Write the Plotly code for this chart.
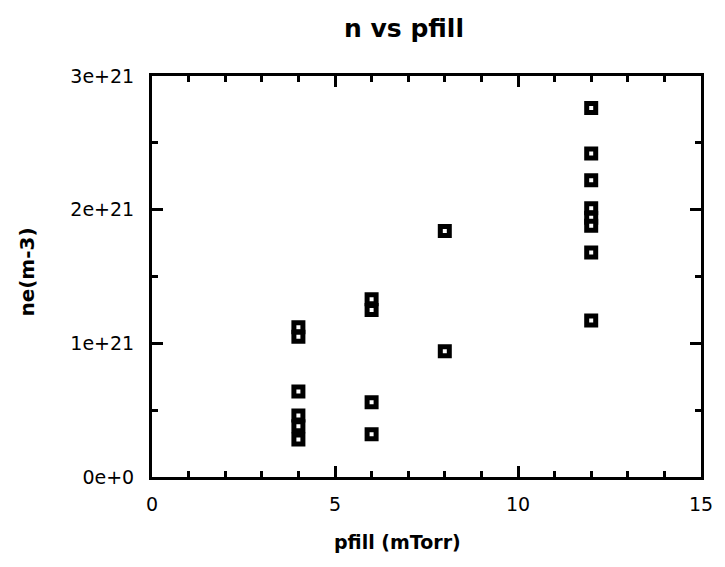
import plotly.graph_objects as go

# Data
pfill = [4, 4, 4, 4, 4, 4,
         6, 6, 6, 6,
         8, 8,
         12, 12, 12, 12, 12, 12, 12, 12]
ne = [1.12e21, 1.05e21, 0.64e21, 0.46e21, 0.38e21, 0.28e21,
      1.33e21, 1.25e21, 0.56e21, 0.32e21,
      1.84e21, 0.94e21,
      2.76e21, 2.42e21, 2.22e21, 2.01e21, 1.94e21, 1.88e21, 1.68e21, 1.17e21]

x_ticks = [0, 5, 10, 15]
x_ticktext = ["0", "5", "10", "15"]
y_ticks = [0, 1e21, 2e21, 3e21]
y_ticktext = ["0e+0", "1e+21", "2e+21", "3e+21"]

FONT = "DejaVu Sans"

fig = go.Figure()
fig.add_trace(go.Scatter(
    x=pfill, y=ne, mode="markers",
    marker=dict(symbol="square", size=9, color="white",
                line=dict(color="black", width=5)),
    showlegend=False, hoverinfo="x+y",
))

axis_common = dict(
    showgrid=False, zeroline=False, showline=True, linecolor="black",
    linewidth=3, mirror="allticks", ticks="inside", ticklen=11,
    tickwidth=3, tickcolor="black",
    tickfont=dict(family=FONT, size=19, color="black"),
)

fig.update_xaxes(
    range=[0, 15], tickvals=x_ticks, ticktext=x_ticktext,
    minor=dict(dtick=1, ticks="inside", ticklen=6, tickwidth=3, tickcolor="black"),
    ticklabelstandoff=8,
    **axis_common,
)
fig.update_yaxes(
    range=[0, 3e21], tickvals=y_ticks, ticktext=y_ticktext,
    minor=dict(dtick=0.5e21, tick0=0, ticks="inside", ticklen=6, tickwidth=3, tickcolor="black"),
    ticklabelstandoff=11,
    **axis_common,
)

fig.update_layout(
    width=725, height=567,
    margin=dict(l=152, r=17, t=76, b=90),
    paper_bgcolor="white", plot_bgcolor="white",
    title=dict(text="<b>n vs pfill</b>", xref="container", yref="container",
               x=404/725, y=1-28/567, xanchor="center", yanchor="middle",
               font=dict(family=FONT, size=25, color="black")),
    annotations=[
        dict(text="<b>pfill (mTorr)</b>", xref="paper", yref="paper",
             x=(401-152)/(708-152), y=-(542-477)/(477-76),
             xanchor="center", yanchor="middle", showarrow=False,
             font=dict(family=FONT, size=19, color="black")),
        dict(text="<b>ne(m-3)</b>", xref="paper", yref="paper",
             x=-(152-25)/(708-152), y=(477-272)/(477-76),
             xanchor="center", yanchor="middle", showarrow=False, textangle=-90,
             font=dict(family=FONT, size=20, color="black")),
    ],
)

fig.write_html("out.html")
